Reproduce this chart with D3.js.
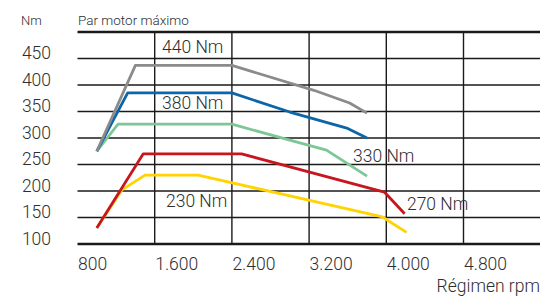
<!DOCTYPE html>
<html>
<head>
<meta charset="utf-8">
<script src="https://cdn.jsdelivr.net/npm/d3@7"></script>
<style>
  body { margin: 0; background: #fff; }
  text { font-family: Roboto, "Noto Sans", sans-serif; fill: #2e2e2e; font-weight: 300; }
</style>
</head>
<body>
<div id="chart-area"></div>
<script>
// rpm / Nm pairs
const gray440 = [[1000, 275], [1400, 437], [2400, 437], [3250, 390], [3620, 366], [3800, 347]];
const blue380 = [[1000, 275], [1320, 385], [2400, 385], [3000, 349], [3600, 318], [3800, 300]];
const green330 = [[1000, 275], [1220, 326], [2400, 326], [3000, 296], [3380, 277], [3800, 228]];
const red270 = [[1000, 130], [1480, 270], [2500, 270], [3980, 198], [4190, 157]];
const yellow230 = [[1000, 130], [1260, 202], [1500, 230], [2050, 230], [3960, 151], [4210, 122]];

const xTicks = [800, 1600, 2400, 3200, 4000, 4800];
const xTickLabels = ["800", "1.600", "2.400", "3.200", "4.000", "4.800"];
const yTicks = [100, 150, 200, 250, 300, 350, 400, 450];

// label anchors, in rpm / Nm
const series = [
    { name: "230 Nm", data: yellow230, color: "#ffd400", lx: 1717, ly: 170 },
    { name: "270 Nm", data: red270, color: "#c8161e", lx: 4214, ly: 164 },
    { name: "330 Nm", data: green330, color: "#7cc795", lx: 3655, ly: 255 },
    { name: "380 Nm", data: blue380, color: "#0a66a8", lx: 1676, ly: 355 },
    { name: "440 Nm", data: gray440, color: "#8b8b8b", lx: 1676, ly: 460 }
];

const svg = d3.select("#chart-area")
    .append("svg")
    .attr("width", 540)
    .attr("height", 296);

const x = d3.scaleLinear().domain([800, 5600]).range([77.5, 540.7]);
const y = d3.scaleLinear().domain([100, 500]).range([244, 32]);

// horizontal grid
svg.selectAll("line.h")
    .data(yTicks.slice(1))
    .enter()
    .append("line")
    .attr("x1", x(800))
    .attr("x2", 540)
    .attr("y1", d => y(d))
    .attr("y2", d => y(d))
    .attr("stroke", "#1a1a1a")
    .attr("stroke-width", 1.4);

// vertical grid
svg.selectAll("line.v")
    .data(xTicks.slice(1))
    .enter()
    .append("line")
    .attr("x1", d => x(d))
    .attr("x2", d => x(d))
    .attr("y1", y(500))
    .attr("y2", y(100))
    .attr("stroke", "#1a1a1a")
    .attr("stroke-width", 1.4);

// thick top / bottom rules
svg.selectAll("line.rule")
    .data([100, 500])
    .enter()
    .append("line")
    .attr("x1", x(800))
    .attr("x2", 540)
    .attr("y1", d => y(d))
    .attr("y2", d => y(d))
    .attr("stroke", "#1a1a1a")
    .attr("stroke-width", 2.6);

const line = d3.line().x(d => x(d[0])).y(d => y(d[1]));

svg.selectAll("path.curve")
    .data(series)
    .enter()
    .append("path")
    .attr("d", d => line(d.data))
    .attr("fill", "none")
    .attr("stroke", d => d.color)
    .attr("stroke-width", 2.8)
    .attr("stroke-linejoin", "round");

svg.selectAll("text.lbl")
    .data(series)
    .enter()
    .append("text")
    .attr("x", d => x(d.lx))
    .attr("y", d => y(d.ly))
    .attr("font-size", "17.5px")
    .text(d => d.name);

// y tick labels
svg.selectAll("text.ytick")
    .data(yTicks)
    .enter()
    .append("text")
    .attr("x", 51)
    .attr("y", d => y(d) + 0.5)
    .attr("text-anchor", "end")
    .attr("font-size", "17.5px")
    .text(d => d);

// x tick labels
svg.selectAll("text.xtick")
    .data(xTicks)
    .enter()
    .append("text")
    .attr("x", d => x(d) + 0.5)
    .attr("y", 270)
    .attr("font-size", "17.5px")
    .text((d, i) => xTickLabels[i]);

svg.append("text")
    .attr("x", 21)
    .attr("y", 25)
    .attr("font-size", "13px")
    .text("Nm");

svg.append("text")
    .attr("x", 78)
    .attr("y", 25)
    .attr("font-size", "13.5px")
    .text("Par motor máximo");

svg.append("text")
    .attr("x", 540)
    .attr("y", 292)
    .attr("text-anchor", "end")
    .attr("font-size", "17.5px")
    .text("Régimen rpm");
</script>
</body>
</html>
